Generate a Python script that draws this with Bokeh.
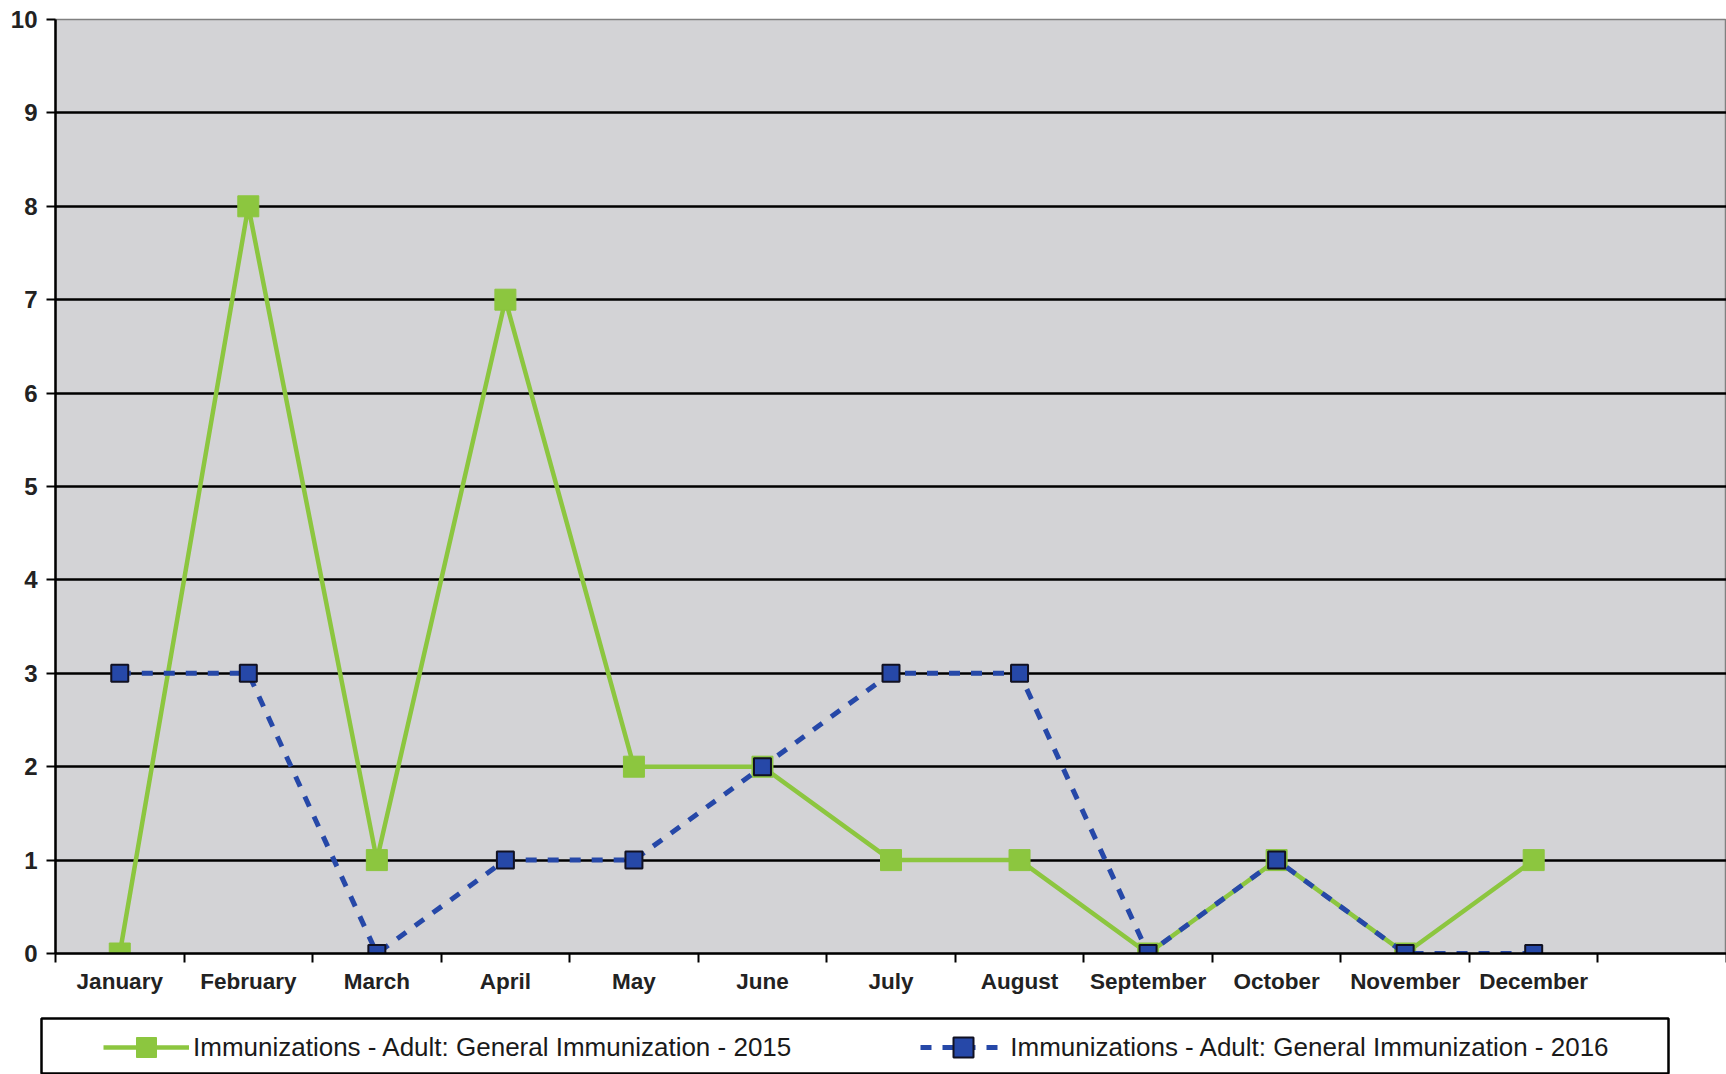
from bokeh.plotting import figure
from bokeh.layouts import column, row
from bokeh.models import (Range1d, FixedTicker, Legend, LegendItem)
from bokeh.embed import file_html
from bokeh.resources import INLINE

months = ["January", "February", "March", "April", "May", "June", "July",
          "August", "September", "October", "November", "December"]
y_ticks = [0, 1, 2, 3, 4, 5, 6, 7, 8, 9, 10]
values_2015 = [0, 8, 1, 7, 2, 2, 1, 1, 0, 1, 0, 1]
values_2016 = [3, 3, 0, 1, 1, 2, 3, 3, 0, 1, 0, 0]
label_2015 = "Immunizations - Adult: General Immunization - 2015"
label_2016 = "Immunizations - Adult: General Immunization - 2016"

xs = list(range(len(months)))

GREEN = "#8cc63f"
BLUE = "#2648a8"
FONT = "Liberation Sans"

p = figure(width=1726, height=1016, output_backend="svg", toolbar_location=None,
           x_range=Range1d(-0.5, 12.5), y_range=Range1d(0, 10),
           min_border_left=55, min_border_right=0, min_border_top=19,
           min_border_bottom=63)
p.border_fill_color = "white"
p.background_fill_color = "#d3d3d6"
p.outline_line_color = "#808080"
p.outline_line_width = 1.5

# axes
p.xaxis.ticker = FixedTicker(ticks=xs, minor_ticks=[i - 0.5 for i in range(14)])
p.xaxis.major_label_overrides = {i: m for i, m in enumerate(months)}
p.xaxis.major_tick_out = 0
p.xaxis.major_tick_in = 0
p.xaxis.minor_tick_out = 9
p.xaxis.minor_tick_in = 0
p.xaxis.minor_tick_line_color = "black"
p.xaxis.minor_tick_line_width = 2
p.xaxis.axis_line_color = "black"
p.xaxis.axis_line_width = 2.5
p.xaxis.major_label_standoff = 6
p.xaxis.major_label_text_font = FONT
p.xaxis.major_label_text_font_style = "bold"
p.xaxis.major_label_text_font_size = "22.5px"
p.xaxis.major_label_text_color = "#222222"

p.yaxis.ticker = FixedTicker(ticks=y_ticks, minor_ticks=[])
p.yaxis.major_tick_out = 9
p.yaxis.major_tick_in = 0
p.yaxis.major_tick_line_color = "black"
p.yaxis.major_tick_line_width = 2
p.yaxis.axis_line_color = "black"
p.yaxis.axis_line_width = 2.5
p.yaxis.major_label_standoff = 9
p.yaxis.major_label_text_font = FONT
p.yaxis.major_label_text_font_style = "bold"
p.yaxis.major_label_text_font_size = "24px"
p.yaxis.major_label_text_color = "#222222"

p.xgrid.grid_line_color = None
p.ygrid.ticker = FixedTicker(ticks=y_ticks[1:-1])
p.ygrid.grid_line_color = "black"
p.ygrid.grid_line_width = 2.5


def add_series(fig):
    l15 = fig.line(xs, values_2015, line_color=GREEN, line_width=4.5)
    s15 = fig.scatter(xs, values_2015, marker="square", size=21,
                      fill_color=GREEN, line_color=GREEN)
    l16 = fig.line(xs, values_2016, line_color=BLUE, line_width=5,
                   line_dash="11 11")
    s16 = fig.scatter(xs, values_2016, marker="square", size=17,
                      fill_color=BLUE, line_color="#111122", line_width=2)
    return l15, s15, l16, s16


add_series(p)

# legend strip: its own frame is the legend box
leg_fig = figure(width=1726, height=58, output_backend="svg",
                 toolbar_location=None, x_axis_type=None, y_axis_type=None,
                 x_range=Range1d(100, 101), y_range=Range1d(100, 101),
                 min_border_left=41, min_border_right=58, min_border_top=2,
                 min_border_bottom=0)
leg_fig.border_fill_color = "white"
leg_fig.background_fill_color = "white"
leg_fig.outline_line_color = "black"
leg_fig.outline_line_width = 2.5
l15, s15, l16, s16 = add_series(leg_fig)

legend = Legend(items=[LegendItem(label=label_2015, renderers=[l15, s15]),
                       LegendItem(label=label_2016, renderers=[l16, s16])],
                location=(62, 2), orientation="horizontal",
                padding=2, margin=0, spacing=129, glyph_width=86,
                glyph_height=50, label_height=50, label_standoff=4,
                label_text_font=FONT, label_text_font_size="26px",
                label_text_color="#1a1a1a",
                border_line_color=None, background_fill_alpha=0)
leg_fig.add_layout(legend, "center")

layout = column(p, row(leg_fig, spacing=0), spacing=0)
open("out.html", "w").write(file_html(layout, INLINE))
